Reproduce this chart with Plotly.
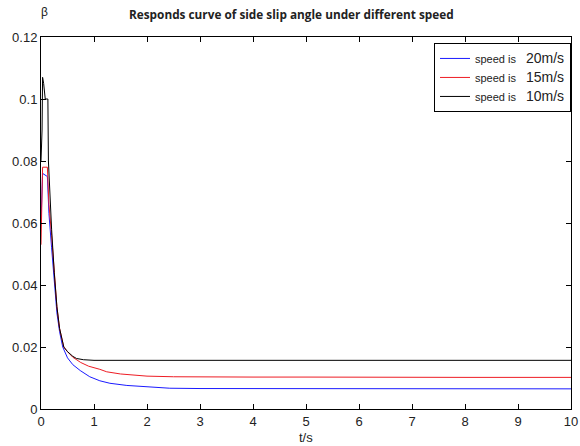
import plotly.graph_objects as go

# ---- data ----
t_20 = [0, 0.01, 0.03, 0.12, 0.15, 0.2, 0.25, 0.3, 0.35, 0.41, 0.5, 0.6, 0.74, 0.92,
        1.11, 1.3, 1.62, 2.0, 2.43, 3, 4, 5, 6, 7, 8, 9, 10]
beta_20 = [0.060, 0.066, 0.076, 0.075, 0.063, 0.052, 0.040, 0.031, 0.025, 0.020, 0.0165,
           0.0143, 0.0124, 0.0104, 0.0091, 0.0083, 0.0076, 0.0071, 0.0067, 0.0066, 0.0066,
           0.0065, 0.0065, 0.0065, 0.0065, 0.0065, 0.0065]

t_15 = [0, 0.01, 0.03, 0.12, 0.15, 0.2, 0.25, 0.3, 0.35, 0.43, 0.5, 0.6, 0.75, 0.9,
        1.11, 1.24, 1.5, 1.68, 2.0, 2.5, 3, 4, 5, 6, 7, 8, 9, 10]
beta_15 = [0.053, 0.060, 0.078, 0.078, 0.066, 0.056, 0.043, 0.033, 0.026, 0.020, 0.0185,
           0.0167, 0.0150, 0.0138, 0.0128, 0.0120, 0.0113, 0.0110, 0.0106, 0.0104, 0.0103,
           0.0103, 0.0103, 0.0102, 0.0102, 0.0102, 0.0102, 0.0102]

t_10 = [0, 0.02, 0.03, 0.05, 0.08, 0.13, 0.14, 0.17, 0.2, 0.25, 0.3, 0.35, 0.43, 0.5,
        0.6, 0.67, 0.8, 1.0, 1.5, 2, 3, 4, 5, 6, 7, 8, 9, 10]
beta_10 = [0.080, 0.090, 0.107, 0.105, 0.100, 0.100, 0.080, 0.068, 0.058, 0.044, 0.033,
           0.026, 0.020, 0.0185, 0.0170, 0.0163, 0.0159, 0.0157, 0.0157, 0.0157, 0.0157,
           0.0157, 0.0157, 0.0157, 0.0157, 0.0157, 0.0157, 0.0157]

x_ticks = [0, 1, 2, 3, 4, 5, 6, 7, 8, 9, 10]
y_ticks = [0, 0.02, 0.04, 0.06, 0.08, 0.1, 0.12]
y_tick_labels = ["0", "0.02", "0.04", "0.06", "0.08", "0.1", "0.12"]

speeds = ["20m/s", "15m/s", "10m/s"]
colors = ["#1a1aff", "#ee1c24", "#000000"]

fig = go.Figure()
for tt, bb, sp, col in zip([t_20, t_15, t_10], [beta_20, beta_15, beta_10], speeds, colors):
    fig.add_trace(go.Scatter(
        x=tt, y=bb, mode="lines",
        line=dict(color=col, width=1),
        name="<span style='font-size:11px'>speed is</span>   <span style='font-size:14px'>" + sp + "</span>",
    ))

axis_common = dict(
    showline=True, linecolor="black", linewidth=1, mirror="ticks",
    ticks="inside", ticklen=5, tickcolor="black",
    showgrid=False, zeroline=False, automargin=False,
    tickfont=dict(family="Liberation Sans, Arial, sans-serif", size=13, color="#222"),
)

fig.update_xaxes(range=[0, 10], tickvals=x_ticks, **axis_common)
fig.update_yaxes(range=[0, 0.12], tickvals=y_ticks, ticktext=y_tick_labels, **axis_common)

fig.update_layout(
    width=580, height=446,
    margin=dict(l=41, r=9, t=37, b=37),
    paper_bgcolor="white", plot_bgcolor="white",
    showlegend=True,
    legend=dict(
        x=1, xanchor="right", y=0.984, yanchor="top",
        bgcolor="white", bordercolor="black", borderwidth=1,
        font=dict(family="Liberation Sans, Arial, sans-serif", size=12, color="#222"),
    ),
    annotations=[
        dict(text="<b>Responds curve of side slip angle under different speed</b>",
             xref="paper", yref="paper", x=0.472, y=1, yshift=23, showarrow=False,
             xanchor="center", yanchor="middle",
             font=dict(family="Open Sans, sans-serif", size=11.8, color="#222")),
        dict(text="β", xref="paper", yref="paper", x=0, y=1, xshift=3, yshift=25,
             showarrow=False, xanchor="center", yanchor="middle",
             font=dict(family="Liberation Sans, Arial, sans-serif", size=12, color="#222")),
        dict(text="t/s", xref="paper", yref="paper", x=0.5, y=0, yshift=-28,
             showarrow=False, xanchor="center", yanchor="middle",
             font=dict(family="Liberation Sans, Arial, sans-serif", size=13, color="#222")),
    ],
)

fig.write_html("out.html", config={"displayModeBar": False},
               post_script="document.body.style.margin='0';")
